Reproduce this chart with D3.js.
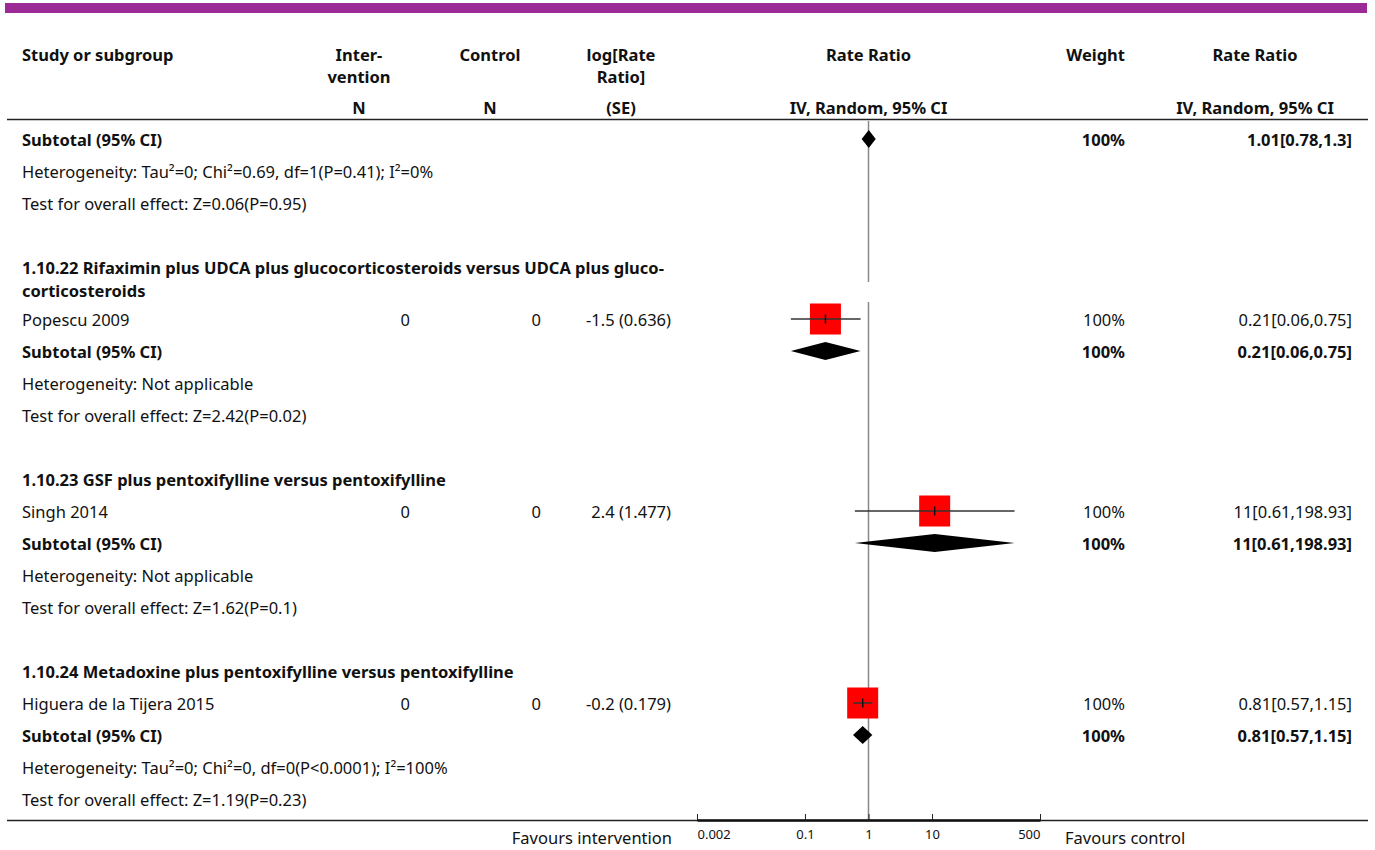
<!DOCTYPE html>
<html>
<head>
<meta charset="utf-8">
<script src="https://cdn.jsdelivr.net/npm/d3@7"></script>
<style>
  html, body { margin: 0; padding: 0; background: #fff; }
  svg { display: block; }
  text { font-family: "Noto Sans", sans-serif; fill: #111; }
</style>
</head>
<body>
<svg id="chart" width="1375" height="850"></svg>
<script>
// ---- data ----
const studies = ["Popescu 2009", "Singh 2014", "Higuera de la Tijera 2015"];
const interventionN = [0, 0, 0];
const controlN = [0, 0, 0];
const logRateSE = ["-1.5 (0.636)", "2.4 (1.477)", "-0.2 (0.179)"];
const studyRR = [0.21, 11, 0.81];
const studyLo = [0.06, 0.61, 0.57];
const studyHi = [0.75, 198.93, 1.15];
const studyWeight = ["100%", "100%", "100%"];
const studyRRLabel = ["0.21[0.06,0.75]", "11[0.61,198.93]", "0.81[0.57,1.15]"];

const groupTitles = [
  null,
  ["1.10.22 Rifaximin plus UDCA plus glucocorticosteroids versus UDCA plus gluco-", "corticosteroids"],
  ["1.10.23 GSF plus pentoxifylline versus pentoxifylline"],
  ["1.10.24 Metadoxine plus pentoxifylline versus pentoxifylline"]
];
const subtotalRR = [1.01, 0.21, 11, 0.81];
const subtotalLo = [0.78, 0.06, 0.61, 0.57];
const subtotalHi = [1.3, 0.75, 198.93, 1.15];
const subtotalLabel = ["1.01[0.78,1.3]", "0.21[0.06,0.75]", "11[0.61,198.93]", "0.81[0.57,1.15]"];
const heterogeneity = [
  "Heterogeneity: Tau\u00B2=0; Chi\u00B2=0.69, df=1(P=0.41); I\u00B2=0%",
  "Heterogeneity: Not applicable",
  "Heterogeneity: Not applicable",
  "Heterogeneity: Tau\u00B2=0; Chi\u00B2=0, df=0(P<0.0001); I\u00B2=100%"
];
const overallEffect = [
  "Test for overall effect: Z=0.06(P=0.95)",
  "Test for overall effect: Z=2.42(P=0.02)",
  "Test for overall effect: Z=1.62(P=0.1)",
  "Test for overall effect: Z=1.19(P=0.23)"
];
const axisTicks = [0.002, 0.1, 1, 10, 500];
const axisTickLabels = ["0.002", "0.1", "1", "10", "500"];

// ---- build row list ----
const rows = [];
for (let g = 0; g < 4; g++) {
  if (groupTitles[g]) {
    rows.push({ type: "blank" });
    rows.push({ type: "title", lines: groupTitles[g] });
    rows.push({ type: "study", s: g - 1 });
  }
  rows.push({ type: "subtotal", g });
  rows.push({ type: "het", text: heterogeneity[g] });
  rows.push({ type: "test", text: overallEffect[g] });
}

// row centre positions
const rowH = 32, lineH = 23;
let yc = 140;
rows.forEach(r => {
  r.y = yc;
  yc += rowH + (r.type === "title" ? (r.lines.length - 1) * (lineH - 3) : 0);
});

// ---- layout ----
const svg = d3.select("#chart");
const x = d3.scaleLog().domain([0.002, 500]).range([697, 1040]);
const col = { study: 22, intN: 410, conN: 541, logSE: 671, weight: 1125, rr: 1352 };
const fs = 16.5;
const baseOff = 5.5;

// top banner
svg.append("rect").attr("x", 5).attr("y", 3).attr("width", 1362).attr("height", 10).attr("fill", "#9c2a96");

// header
const header = svg.append("g").attr("font-weight", "bold").attr("font-size", fs);
function htext(t, xx, yy, anchor) {
  header.append("text").attr("x", xx).attr("y", yy + baseOff).attr("text-anchor", anchor).text(t);
}
htext("Study or subgroup", col.study, 55, "start");
htext("Inter-", 359, 55, "middle");
htext("vention", 359, 77, "middle");
htext("N", 359, 108, "middle");
htext("Control", 490, 55, "middle");
htext("N", 490, 108, "middle");
htext("log[Rate", 621, 55, "middle");
htext("Ratio]", 621, 77, "middle");
htext("(SE)", 621, 108, "middle");
htext("Rate Ratio", x(1), 55, "middle");
htext("IV, Random, 95% CI", x(1), 108, "middle");
htext("Weight", col.weight, 55, "end");
htext("Rate Ratio", 1255, 55, "middle");
htext("IV, Random, 95% CI", 1255, 108, "middle");

svg.append("line").attr("x1", 7).attr("x2", 1368).attr("y1", 119.5).attr("y2", 119.5)
  .attr("stroke", "#222").attr("stroke-width", 1.5);

// line of no effect (interrupted behind the two-line title)
const firstTitle = rows.find(r => r.type === "title" && r.lines.length > 1);
const nullSegs = [[121, firstTitle.y + 14], [firstTitle.y + 34, 820]];
nullSegs.forEach(([a, b]) => {
  svg.append("line").attr("x1", x(1)).attr("x2", x(1)).attr("y1", a).attr("y2", b)
    .attr("stroke", "#888").attr("stroke-width", 1.5);
});

// body rows
const body = svg.append("g").attr("font-size", fs);
function btext(t, xx, yy, anchor, bold) {
  body.append("text").attr("x", xx).attr("y", yy + baseOff).attr("text-anchor", anchor)
    .attr("font-weight", bold ? "bold" : "normal").text(t);
}
const sq = 31, diaH = 18;
rows.forEach(r => {
  if (r.type === "title") {
    r.lines.forEach((ln, i) => btext(ln, col.study, r.y + i * lineH, "start", true));
  } else if (r.type === "study") {
    const s = r.s;
    btext(studies[s], col.study, r.y, "start");
    btext(String(interventionN[s]), col.intN, r.y, "end");
    btext(String(controlN[s]), col.conN, r.y, "end");
    btext(logRateSE[s], col.logSE, r.y, "end");
    btext(studyWeight[s], col.weight, r.y, "end");
    btext(studyRRLabel[s], col.rr, r.y, "end");
    const cx = x(studyRR[s]);
    svg.append("rect").attr("x", cx - sq / 2).attr("y", r.y - sq / 2 - 1).attr("width", sq).attr("height", sq)
      .attr("fill", "#ff0000");
    svg.append("line").attr("x1", x(studyLo[s])).attr("x2", x(studyHi[s])).attr("y1", r.y - 1).attr("y2", r.y - 1)
      .attr("stroke", "#333").attr("stroke-width", 1.5);
    svg.append("line").attr("x1", cx).attr("x2", cx).attr("y1", r.y - 5.5).attr("y2", r.y + 3.5)
      .attr("stroke", "#111").attr("stroke-width", 1.5);
  } else if (r.type === "subtotal") {
    const g = r.g;
    btext("Subtotal (95% CI)", col.study, r.y, "start", true);
    btext("100%", col.weight, r.y, "end", true);
    btext(subtotalLabel[g], col.rr, r.y, "end", true);
    const cy = r.y - 1;
    const pts = [[x(subtotalLo[g]), cy], [x(subtotalRR[g]), cy - diaH / 2], [x(subtotalHi[g]), cy], [x(subtotalRR[g]), cy + diaH / 2]];
    svg.append("path").attr("d", d3.line()(pts) + "Z").attr("fill", "#000");
  } else if (r.type === "het" || r.type === "test") {
    btext(r.text, col.study, r.y, "start");
  }
});

// bottom axis
svg.append("line").attr("x1", 7).attr("x2", 1368).attr("y1", 820.5).attr("y2", 820.5)
  .attr("stroke", "#222").attr("stroke-width", 1.5);
const axis = d3.axisBottom(x).tickValues(axisTicks).tickSize(0)
  .tickFormat((d, i) => axisTickLabels[i]);
const ag = svg.append("g").attr("transform", "translate(0,820)").call(axis);
ag.select(".domain").attr("stroke", "#111").attr("stroke-width", 2.5);
const last = axisTicks.length - 1;
ag.selectAll(".tick text").attr("font-family", "\"Noto Sans\", sans-serif").attr("font-size", 13)
  .attr("fill", "#111").attr("y", 19).attr("dy", 0)
  .attr("text-anchor", (d, i) => i === 0 ? "start" : (i === last ? "end" : "middle"));
ag.selectAll(".tick").append("line").attr("y1", 0).attr("y2", -6).attr("stroke", "#222").attr("stroke-width", 1);

svg.append("text").attr("x", 672).attr("y", 844).attr("text-anchor", "end").attr("font-size", fs).text("Favours intervention");
svg.append("text").attr("x", 1065).attr("y", 844).attr("text-anchor", "start").attr("font-size", fs).text("Favours control");
</script>
</body>
</html>
